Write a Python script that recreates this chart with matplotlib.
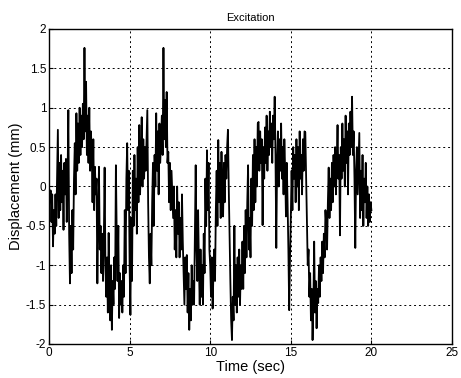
import numpy as np
import matplotlib
matplotlib.use("Agg")
import matplotlib.pyplot as plt

plt.rcParams['font.family'] = ['Liberation Sans', 'DejaVu Sans']

dt = 0.05
sec00 = [0.0, -0.2, -0.05, -0.45, -0.1, -0.76, -0.3, -0.6, -0.1, -0.5, 0.1, 0.72, -0.4, 0.3, -0.3, 0.4, -0.2, 0.2, -0.55, 0.3]
sec01 = [-0.1, 0.35, -0.45, 0.1, 0.97, -0.6, -1.23, -0.5, -1.1, -0.3, -0.8, 0.1, 0.55, -0.1, 0.93, 0.2, 0.8, 0.3, 1.0, 0.4]
sec02 = [0.9, 0.5, 1.05, 0.6, 1.76, 0.7, 1.33, 0.4, 0.9, 0.3, 1.0, 0.2, 0.7, 0.45, -0.2, 0.6, -0.3, 0.25, -0.1, 0.1]
sec03 = [-1.23, -0.4, 0.25, -0.8, -0.5, -1.1, -0.6, -1.2, -0.7, 0.24, -1.0, -1.4, -0.9, -1.6, -0.59, -1.3, -1.7, -1.0, -1.82, -1.2]
sec04 = [-1.5, -0.9, -1.3, 0.27, -0.6, -1.2, -0.5, -1.67, -1.1, -1.5, -1.2, -1.6, -1.0, -1.4, -0.3, -1.1, 0.1, 0.55, -0.3, 0.2]
sec05 = [-1.0, -1.63, -0.4, -1.2, 0.2, -0.5, 0.4, -0.3, 0.1, -0.6, 0.5, -0.2, 0.78, -0.1, 0.3, 0.88, 0.0, 0.6, 0.1, 0.5]
sec06 = [0.2, 0.6, 0.97, -0.2, -0.9, -1.23, -0.6, -1.0, -0.2, 0.3, -0.5, 0.4, 0.0, 0.93, 0.2, 0.7, -0.1, 0.8, 0.3, 0.6]
sec07 = [0.9, 0.4, 1.76, 0.6, 1.1, 0.5, 1.2, 0.3, 0.44, -0.2, 0.3, -0.3, 0.2, -0.1, -0.4, 0.0, -0.8, -0.3, -0.9, 0.0]
sec08 = [-0.6, -0.2, -0.9, -0.4, -0.8, -0.1, -0.7, -1.1, -1.5, -0.9, -1.3, -0.87, -1.6, -1.1, -1.82, -1.3, -1.7, -1.0, -1.5, -1.2]
sec09 = [-1.5, -0.6, 0.27, -0.8, -1.2, -0.3, -1.0, -1.5, -0.8, -1.4, -1.0, -1.5, -0.6, -1.1, 0.1, -0.5, 0.46, -0.3, 0.3, -0.8]
sec10 = [-1.0, -1.4, -0.9, -1.55, -1.1, -0.8, -1.2, -0.3, 0.2, -0.5, 0.59, -0.2, 0.3, -0.4, 0.44, -0.1, -0.38, 0.3, -0.2, 0.4]
sec11 = [0.1, 0.5, 0.72, 0.0, -0.6, -1.2, -1.7, -1.95, -1.4, -1.7, -0.5, -1.5, -1.0, -1.6, -0.9, -1.4, -0.8, -1.5, -1.0, -1.3]
sec12 = [-0.7, -1.3, -0.5, -1.1, -0.3, -0.9, -0.2, 0.27, -0.8, -0.4, -0.9, 0.1, -0.5, 0.4, -0.3, 0.6, -0.2, 0.5, 0.0, 0.8]
sec13 = [0.82, 0.2, 0.7, 0.3, 0.6, -0.49, 0.5, 0.1, 0.75, 0.3, 0.9, 0.2, 0.7, 0.4, 0.95, 0.5, 0.8, 0.3, 0.9, 0.6]
sec14 = [1.14, 0.4, -0.78, 0.3, 0.7, 0.0, 0.6, 0.2, 0.8, 0.1, 0.5, -0.1, 0.6, 0.2, -0.38, 0.3, -0.2, -0.8, -1.57, -0.9]
sec15 = [-0.4, 0.2, -0.3, 0.5, 0.1, 0.4, -0.2, 0.6, 0.0, 0.5, -0.3, 0.7, 0.1, 0.4, -0.1, 0.6, 0.2, 0.7, 0.69, 0.1]
sec16 = [-0.5, -1.0, -0.8, -1.4, -1.1, -1.7, -1.3, -1.95, -1.5, -0.7, -1.6, -1.2, -1.8, -1.3, -1.48, -1.0, -1.4, -0.9, -1.2, -0.7]
sec17 = [-1.1, -0.6, -0.9, -0.3, -0.49, -0.8, -0.2, 0.24, -0.4, 0.1, -0.3, 0.3, -0.2, 0.4, 0.0, 0.5, -0.1, 0.3, 0.78, 0.1]
sec18 = [0.4, -0.62, 0.5, 0.1, 0.8, 0.2, 0.6, 0.0, 0.9, 0.3, 0.7, -0.1, 0.8, 0.4, 0.95, 0.5, 1.14, 0.4, 0.7, 0.1]
sec19 = [-0.78, 0.2, 0.5, -0.1, 0.3, 0.68, -0.4, 0.2, -0.3, 0.4, -0.5, 0.1, -0.2, 0.3, -0.4, 0.0, -0.5, -0.1, -0.45, -0.2]
last = [-0.3]

disp = (sec00 + sec01 + sec02 + sec03 + sec04 + sec05 + sec06 + sec07 + sec08 + sec09 +
        sec10 + sec11 + sec12 + sec13 + sec14 + sec15 + sec16 + sec17 + sec18 + sec19 + last)
t = np.arange(len(disp)) * dt

xticks = [0, 5, 10, 15, 20, 25]
yticks = [-2, -1.5, -1, -0.5, 0, 0.5, 1, 1.5, 2]
yticklabels = ["-2", "-1.5", "-1", "-0.5", "0", "0.5", "1", "1.5", "2"]

fig = plt.figure(figsize=(4.61, 3.78), dpi=100)
ax = fig.add_axes([49/461, 1-344/378, (452-49)/461, (344-29)/378])
ax.plot(t, disp, color="black", lw=1.3)
ax.set_xlim(0, 25)
ax.set_ylim(-2, 2)
ax.set_xticks(xticks)
ax.set_xticklabels([str(v) for v in xticks])
ax.set_yticks(yticks)
ax.set_yticklabels(yticklabels)
ax.grid(True, color="black", linestyle=(0, (2, 3)), lw=0.7)
ax.tick_params(direction="in", length=3, labelsize=8.5, colors="black", pad=2)
for s in ax.spines.values():
    s.set_linewidth(1.0)
    s.set_color("black")
ax.set_title("Excitation", fontsize=8, pad=6)
ax.set_xlabel("Time (sec)", fontsize=10.5, labelpad=1)
ax.set_ylabel("Displacement (mm)", fontsize=10.5, labelpad=2)
fig.savefig("out.png", dpi=100)
